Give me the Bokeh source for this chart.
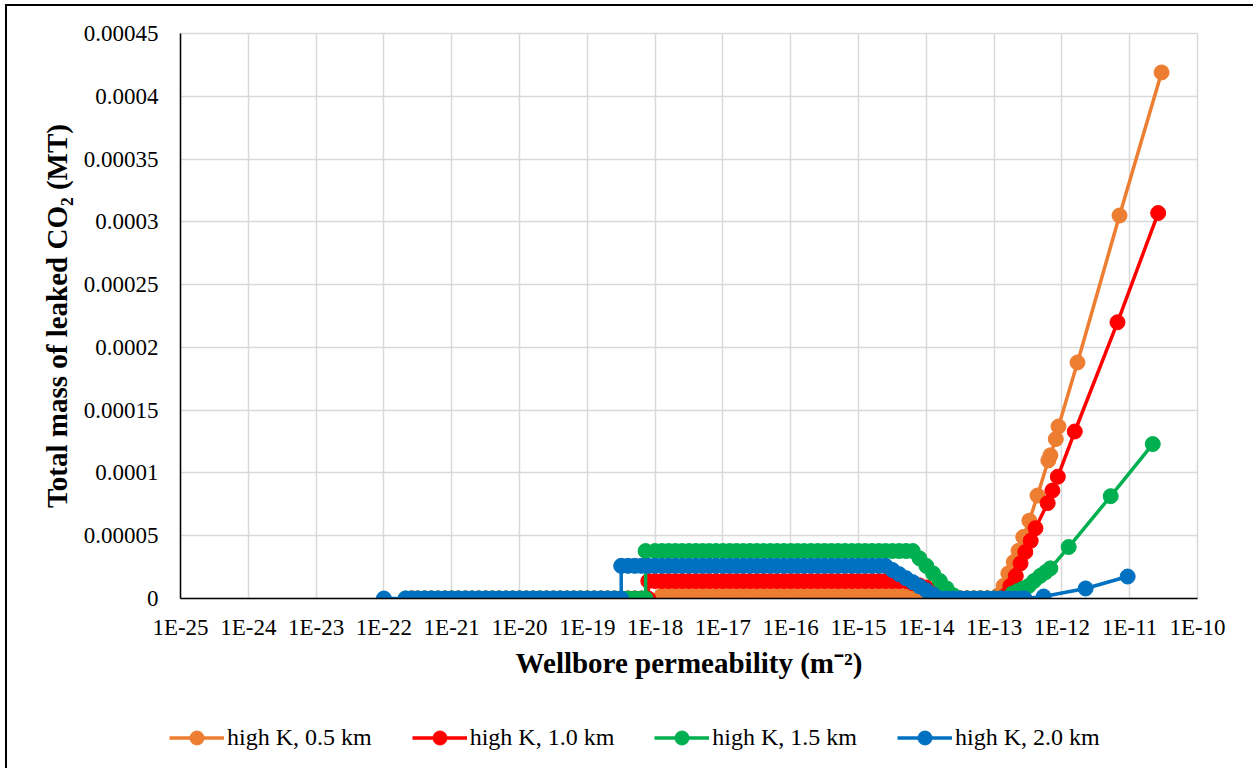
from bokeh.plotting import figure
from bokeh.layouts import column
from bokeh.models import Range1d, FixedTicker, CustomJSTickFormatter, Legend, LegendItem
from bokeh.embed import file_html
from bokeh.resources import INLINE

# ---------------- data ----------------
# x: log10 of wellbore permeability (m^2); y: total leaked CO2 in units of 1e-6 MT
K05_EXP = [
    -17.9, -17.8, -17.7, -17.6, -17.5, -17.4, -17.3, -17.2, -17.1, -17.0,
    -16.9, -16.8, -16.7, -16.6, -16.5, -16.4, -16.3, -16.2, -16.1, -16.0,
    -15.9, -15.8, -15.7, -15.6, -15.5, -15.4, -15.3, -15.2, -15.1, -15.0,
    -14.9, -14.8, -14.7, -14.6, -14.5, -14.4, -14.3, -14.2, -14.1, -14.0,
    -13.9, -13.8, -13.7, -13.6, -13.5, -13.4, -13.3, -13.2, -13.1, -13.0,
    -12.94, -12.86, -12.79, -12.71, -12.64, -12.57, -12.48, -12.36, -12.20, -12.17,
    -12.09, -12.05, -11.77, -11.15, -10.53]
K05_VAL = [
    2.4, 2.4, 2.4, 2.4, 2.4, 2.4, 2.4, 2.4, 2.4, 2.4,
    2.4, 2.4, 2.4, 2.4, 2.4, 2.4, 2.4, 2.4, 2.4, 2.4,
    2.4, 2.4, 2.4, 2.4, 2.4, 2.4, 2.4, 2.4, 2.4, 2.4,
    2.4, 2.4, 2.4, 2.4, 2.4, 2.4, 2.0, 1.5, 1.0, 0.5,
    0, 0, 0, 0, 0, 0, 0, 0, 0, 0,
    2.4, 10, 20, 29, 38, 49, 62, 82, 110, 114,
    127, 137, 188, 305, 419]

K10_EXP = [
    -21.58, -21.5, -21.4, -21.3, -21.2, -21.1, -21.0, -20.9, -20.8, -20.7,
    -20.6, -20.5, -20.4, -20.3, -20.2, -20.1, -20.0, -19.9, -19.8, -19.7,
    -19.6, -19.5, -19.4, -19.3, -19.2, -19.1, -19.0, -18.9, -18.8, -18.7,
    -18.6, -18.5, -18.4, -18.3, -18.2, -18.1,
    -18.1, -18.0, -17.9, -17.8, -17.7, -17.6, -17.5, -17.4, -17.3, -17.2,
    -17.1, -17.0, -16.9, -16.8, -16.7, -16.6, -16.5, -16.4, -16.3, -16.2,
    -16.1, -16.0, -15.9, -15.8, -15.7, -15.6, -15.5, -15.4, -15.3, -15.2,
    -15.1, -15.0, -14.9, -14.8, -14.7, -14.6, -14.5, -14.4, -14.3,
    -14.2, -14.1, -14.0, -13.9, -13.8, -13.7, -13.6, -13.5,
    -13.4, -13.3, -13.2, -13.1, -13.0, -12.9,
    -12.83, -12.76, -12.68, -12.61, -12.54, -12.46, -12.39, -12.21, -12.14, -12.06,
    -11.81, -11.18, -10.58]
K10_VAL = [
    0, 0, 0, 0, 0, 0, 0, 0, 0, 0,
    0, 0, 0, 0, 0, 0, 0, 0, 0, 0,
    0, 0, 0, 0, 0, 0, 0, 0, 0, 0,
    0, 0, 0, 0, 0, 0,
    13.9, 13.9, 13.9, 13.9, 13.9, 13.9, 13.9, 13.9, 13.9, 13.9,
    13.9, 13.9, 13.9, 13.9, 13.9, 13.9, 13.9, 13.9, 13.9, 13.9,
    13.9, 13.9, 13.9, 13.9, 13.9, 13.9, 13.9, 13.9, 13.9, 13.9,
    13.9, 13.9, 13.9, 13.9, 13.9, 13.9, 13.9, 13.9, 13.9,
    12.2, 10.4, 8.7, 7.0, 5.2, 3.5, 1.7, 0,
    0, 0, 0, 0, 0, 0,
    2.4, 10, 18, 28, 37, 46, 56, 76, 86, 97,
    133, 220, 307]

K15_EXP = [
    -21.68, -21.6, -21.5, -21.4, -21.3, -21.2, -21.1, -21.0, -20.9, -20.8,
    -20.7, -20.6, -20.5, -20.4, -20.3, -20.2, -20.1, -20.0, -19.9, -19.8,
    -19.7, -19.6, -19.5, -19.4, -19.3, -19.2, -19.1, -19.0, -18.9, -18.8,
    -18.7, -18.6, -18.5, -18.4, -18.3, -18.2, -18.14,
    -18.14, -18.0, -17.9, -17.8, -17.7, -17.6, -17.5, -17.4, -17.3, -17.2,
    -17.1, -17.0, -16.9, -16.8, -16.7, -16.6, -16.5, -16.4, -16.3, -16.2,
    -16.1, -16.0, -15.9, -15.8, -15.7, -15.6, -15.5, -15.4, -15.3, -15.2,
    -15.1, -15.0, -14.9, -14.8, -14.7, -14.6, -14.5, -14.4, -14.3, -14.2,
    -14.1, -14.0, -13.9, -13.8, -13.7, -13.6, -13.5,
    -13.4, -13.3, -13.2, -13.1, -13.0, -12.9, -12.8,
    -12.73, -12.65, -12.57, -12.49, -12.41, -12.32, -12.24, -12.17, -11.90, -11.28,
    -10.66]
K15_VAL = [
    0, 0, 0, 0, 0, 0, 0, 0, 0, 0,
    0, 0, 0, 0, 0, 0, 0, 0, 0, 0,
    0, 0, 0, 0, 0, 0, 0, 0, 0, 0,
    0, 0, 0, 0, 0, 0, 0,
    37.8, 37.8, 37.8, 37.8, 37.8, 37.8, 37.8, 37.8, 37.8, 37.8,
    37.8, 37.8, 37.8, 37.8, 37.8, 37.8, 37.8, 37.8, 37.8, 37.8,
    37.8, 37.8, 37.8, 37.8, 37.8, 37.8, 37.8, 37.8, 37.8, 37.8,
    37.8, 37.8, 37.8, 37.8, 37.8, 37.8, 37.8, 37.8, 37.8, 37.8,
    32, 26, 20, 14, 8, 2.5, 0,
    0, 0, 0, 0, 0, 0, 0,
    4, 6, 8, 10, 14, 18, 21, 24, 41, 81.5,
    123]

K20_EXP = [
    -22.0, -21.68, -21.6, -21.5, -21.4, -21.3, -21.2, -21.1, -21.0, -20.9,
    -20.8, -20.7, -20.6, -20.5, -20.4, -20.3, -20.2, -20.1, -20.0, -19.9,
    -19.8, -19.7, -19.6, -19.5, -19.4, -19.3, -19.2, -19.1, -19.0, -18.9,
    -18.8, -18.7, -18.6, -18.5,
    -18.5, -18.4, -18.3, -18.2, -18.1, -18.0, -17.9, -17.8, -17.7, -17.6,
    -17.5, -17.4, -17.3, -17.2, -17.1, -17.0, -16.9, -16.8, -16.7, -16.6,
    -16.5, -16.4, -16.3, -16.2, -16.1, -16.0, -15.9, -15.8, -15.7, -15.6,
    -15.5, -15.4, -15.3, -15.2, -15.1, -15.0, -14.9, -14.8, -14.7, -14.6,
    -14.5, -14.4, -14.3, -14.2, -14.1, -14.0, -13.9, -13.8,
    -13.7, -13.6, -13.5, -13.4, -13.3, -13.2, -13.1, -13.0, -12.9, -12.8,
    -12.7, -12.6, -12.55,
    -12.27, -11.65, -11.03]
K20_VAL = [
    0, 0, 0, 0, 0, 0, 0, 0, 0, 0,
    0, 0, 0, 0, 0, 0, 0, 0, 0, 0,
    0, 0, 0, 0, 0, 0, 0, 0, 0, 0,
    0, 0, 0, 0,
    26.0, 26.0, 26.0, 26.0, 26.0, 26.0, 26.0, 26.0, 26.0, 26.0,
    26.0, 26.0, 26.0, 26.0, 26.0, 26.0, 26.0, 26.0, 26.0, 26.0,
    26.0, 26.0, 26.0, 26.0, 26.0, 26.0, 26.0, 26.0, 26.0, 26.0,
    26.0, 26.0, 26.0, 26.0, 26.0, 26.0, 26.0, 26.0, 26.0, 26.0,
    22.7, 19.4, 16.2, 13.0, 9.7, 6.5, 3.2, 0,
    0, 0, 0, 0, 0, 0, 0, 0, 0, 0,
    0, 0, 0,
    1.6, 8, 17.5]

SERIES = ["high K, 0.5 km", "high K, 1.0 km", "high K, 1.5 km", "high K, 2.0 km"]
COLORS = ["#ED7D31", "#FF0000", "#00B050", "#0070C0"]
X_TICK_EXP = [-25, -24, -23, -22, -21, -20, -19, -18, -17, -16, -15, -14, -13, -12, -11, -10]
X_LABELS = ["1E-25", "1E-24", "1E-23", "1E-22", "1E-21", "1E-20", "1E-19", "1E-18",
            "1E-17", "1E-16", "1E-15", "1E-14", "1E-13", "1E-12", "1E-11", "1E-10"]
Y_TICKS = [0, 0.00005, 0.0001, 0.00015, 0.0002, 0.00025, 0.0003, 0.00035, 0.0004, 0.00045]
Y_LABELS = ["0", "0.00005", "0.0001", "0.00015", "0.0002", "0.00025", "0.0003",
            "0.00035", "0.0004", "0.00045"]

FONT = "Liberation Serif"
W = 1246

p = figure(width=W, height=700, x_axis_type="log",
           x_range=Range1d(1e-25, 1e-10), y_range=Range1d(0, 0.00045),
           output_backend="svg", toolbar_location=None,
           min_border_left=173, min_border_top=27, min_border_right=56, min_border_bottom=108)
p.frame_align = False
p.outline_line_color = "#D9D9D9"
p.outline_line_width = 1.5

xt = FixedTicker(ticks=[10.0 ** e for e in X_TICK_EXP], minor_ticks=[])
yt = FixedTicker(ticks=Y_TICKS, minor_ticks=[])
p.xaxis.ticker = xt
p.yaxis.ticker = yt
p.xgrid.ticker = xt
p.ygrid.ticker = yt
p.xaxis.formatter = CustomJSTickFormatter(args=dict(labels=X_LABELS),
                                          code="return labels[Math.round(Math.log10(tick)) + 25];")
p.yaxis.formatter = CustomJSTickFormatter(args=dict(labels=Y_LABELS),
                                          code="return labels[Math.round(tick / 0.00005)];")
for g in (p.xgrid, p.ygrid):
    g.grid_line_color = "#D9D9D9"
    g.grid_line_width = 1.5

for ax in (p.xaxis[0], p.yaxis[0]):
    ax.major_tick_in = 0
    ax.major_tick_out = 0
    ax.minor_tick_in = 0
    ax.minor_tick_out = 0
    ax.axis_line_color = "black"
    ax.axis_line_width = 1.5
    ax.major_label_text_font = FONT
    ax.major_label_text_font_size = "23px"
    ax.major_label_text_color = "black"
    ax.axis_label_text_font = FONT
    ax.axis_label_text_font_size = "29px"
    ax.axis_label_text_font_style = "bold"
    ax.axis_label_text_color = "black"

p.xaxis.axis_label = "Wellbore permeability (m\u207b\u00b2)"
p.yaxis.axis_label = "Total mass of leaked CO\u2082 (MT)"
p.xaxis.major_label_standoff = 16
p.xaxis.axis_label_standoff = 4
p.yaxis.major_label_standoff = 22
p.yaxis.axis_label_standoff = 8

# legend strip (separate canvas so the legend is not clipped by the plot frame)
q = figure(width=W, height=62, x_range=Range1d(0, 1), y_range=Range1d(0, 1),
           x_axis_type=None, y_axis_type=None, output_backend="svg", toolbar_location=None,
           min_border=0)
q.frame_align = False
q.outline_line_color = None

items = []
data = [(K05_EXP, K05_VAL), (K10_EXP, K10_VAL), (K15_EXP, K15_VAL), (K20_EXP, K20_VAL)]
for (ex, va), name, col in zip(data, SERIES, COLORS):
    xs = [10.0 ** e for e in ex]
    ys = [v * 1e-6 for v in va]
    p.line(xs, ys, line_color=col, line_width=3.5)
    p.scatter(xs, ys, size=15, fill_color=col, line_color=col, line_width=1)
    # legend proxies, placed outside the strip's visible range
    lr = q.line([-2, -1], [-2, -2], line_color=col, line_width=3.5)
    sr = q.scatter([-2], [-2], size=15, fill_color=col, line_color=col, line_width=1)
    items.append(LegendItem(label=name, renderers=[lr, sr]))

lg = Legend(items=items, orientation="horizontal", location=(162, 13))
lg.label_text_font = FONT
lg.label_text_font_size = "24px"
lg.label_text_color = "black"
lg.glyph_width = 55
lg.glyph_height = 35
lg.label_standoff = 3
lg.spacing = 40
lg.padding = 0
lg.margin = 0
lg.border_line_color = None
lg.background_fill_alpha = 0
q.add_layout(lg, "center")

layout = column(p, q, spacing=0)
layout.styles = {"border-left": "2px solid black", "border-top": "2px solid black",
                 "margin-left": "5px", "margin-top": "4px"}

open("out.html", "w").write(file_html(layout, INLINE))
